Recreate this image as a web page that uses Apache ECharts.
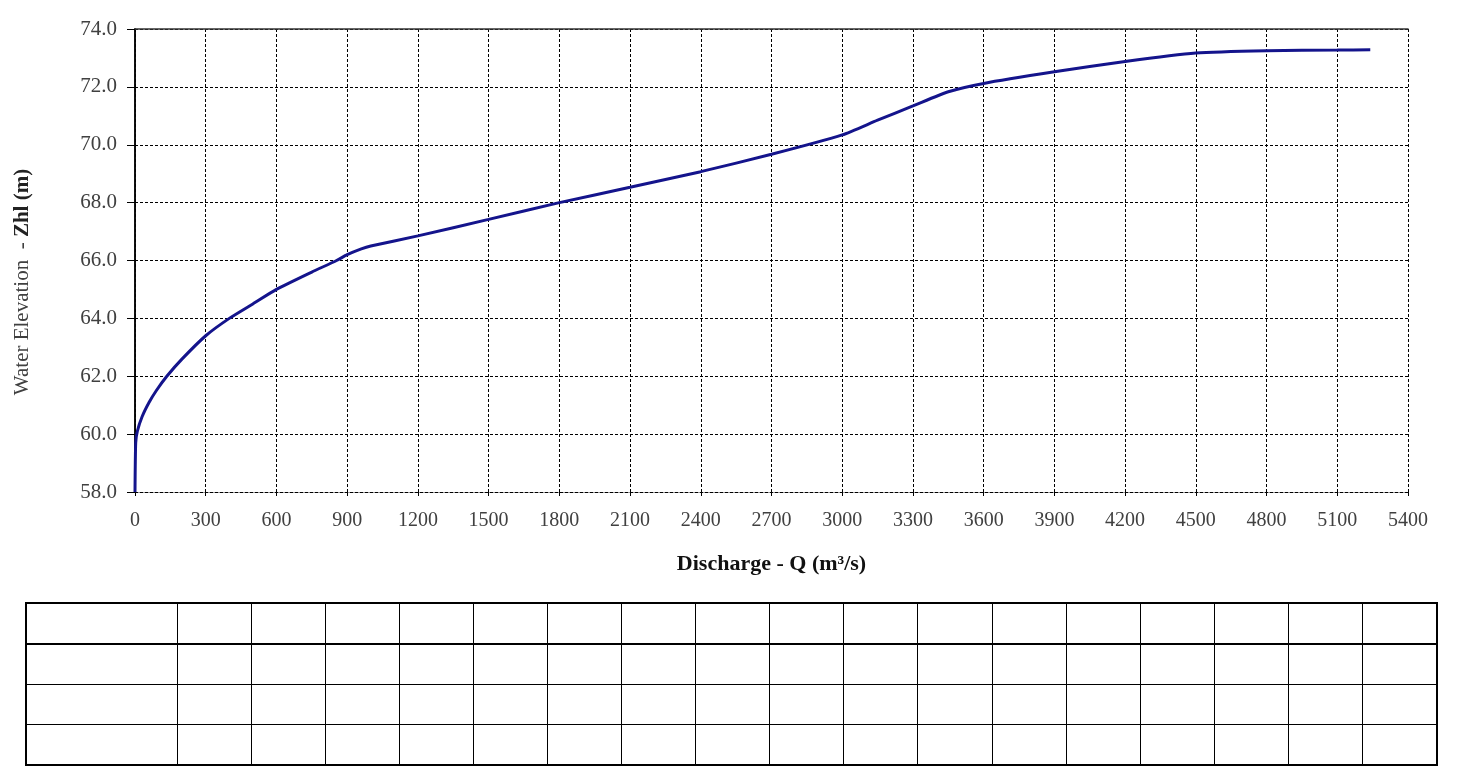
<!DOCTYPE html>
<html>
<head>
<meta charset="utf-8">
<script src="https://cdn.jsdelivr.net/npm/echarts@6/dist/echarts.min.js"></script>
<style>
  html, body { margin: 0; padding: 0; background: #fff; }
  #main { position: absolute; left: 0; top: 0; width: 1466px; height: 595px; }
  #tbl { position: absolute; left: 25px; top: 602px; width: 1412px;
         border-collapse: collapse; table-layout: fixed; border: 2px solid #000; }
  #tbl td { border: 1.5px solid #000; padding: 0; height: 39px; }
  #tbl tr.head td { border-bottom: 2.5px solid #000; }
</style>
</head>
<body>
<div id="main"></div>
<table id="tbl"></table>
<script>
// rating curve: discharge (m3/s) vs water level (m)
var discharge = [0, 3, 10, 30, 60, 90, 135, 200, 300, 400, 500, 600, 750, 855, 900, 960, 1000,
                 1200, 1500, 1800, 2100, 2400, 2700, 3000, 3150, 3300, 3450, 3600, 3900, 4200,
                 4500, 4800, 5100, 5240];
var elevation = [58.0, 59.7, 60.1, 60.6, 61.1, 61.5, 62.0, 62.6, 63.4, 64.0, 64.5, 65.0, 65.6, 66.0, 66.2, 66.4, 66.5,
                 66.85, 67.42, 68.0, 68.53, 69.07, 69.67, 70.34, 70.85, 71.34, 71.83, 72.12, 72.52, 72.88,
                 73.17, 73.25, 73.27, 73.28];
var tableRows = 4;
var tableCols = 18;

var pts = [];
for (var i = 0; i < discharge.length; i++) {
	pts.push([discharge[i], elevation[i]]);
}

var myChart = echarts.init(document.getElementById('main'));
var labelFont = { fontFamily: 'Liberation Serif', fontSize: 20, color: '#404040' };
var dashLine = { show: true, lineStyle: { color: '#000', width: 1, type: [3, 2] } };

var option = {
	animation: false,
	grid: { left: 135, right: 58, top: 29, height: 463 },
	xAxis: [
		{
			type: 'value', min: 0, max: 5400, interval: 300,
			axisLine: { show: true, lineStyle: { color: '#000', width: 1, type: [3, 2] } },
			axisTick: { show: true, length: 4, lineStyle: { color: '#000' } },
			axisLabel: Object.assign({ margin: 19, formatter: function (v) { return String(v); } }, labelFont),
			splitLine: dashLine,
			name: 'Discharge - Q (m³/s)',
			nameLocation: 'middle',
			nameGap: 61,
			nameTextStyle: { fontFamily: 'Liberation Serif', fontSize: 22, fontWeight: 'bold', color: '#111' }
		},
		{
			type: 'value', position: 'top', min: 0, max: 5400,
			axisLine: { show: true, lineStyle: { color: '#333', width: 1.5 } },
			axisTick: { show: false }, axisLabel: { show: false }, splitLine: { show: false }
		}
	],
	yAxis: [
		{
			type: 'value', min: 58, max: 74, interval: 2,
			axisLine: { show: true, lineStyle: { color: '#000', width: 1.5 } },
			axisTick: { show: true, length: 8, lineStyle: { color: '#000' } },
			axisLabel: Object.assign({ margin: 18, formatter: function (v) { return v.toFixed(1); } }, labelFont, { fontSize: 21 }),
			splitLine: dashLine,
			name: '{n|Water Elevation  - }{b|Zhl (m)}',
			nameLocation: 'middle',
			nameGap: 102,
			nameRotate: 90,
			nameTextStyle: {
				padding: [0, 0, 0, -43],
				rich: {
					n: { fontFamily: 'Liberation Serif', fontSize: 21, color: '#404040' },
					b: { fontFamily: 'Liberation Serif', fontSize: 21, fontWeight: 'bold', color: '#222' }
				}
			}
		},
		{
			type: 'value', position: 'right', min: 58, max: 74,
			axisLine: { show: true, lineStyle: { color: '#000', width: 1.5 } },
			axisTick: { show: false }, axisLabel: { show: false }, splitLine: { show: false }
		}
	],
	series: [
		{
			type: 'line',
			data: pts,
			smooth: 0.2,
			showSymbol: false,
			lineStyle: { color: '#14148c', width: 3 }
		}
	]
};
myChart.setOption(option);

// empty data table underneath
var tbl = document.getElementById('tbl');
var colgroup = document.createElement('colgroup');
for (var c = 0; c < tableCols; c++) {
	var col = document.createElement('col');
	col.style.width = (c == 0 ? 151 : 74.1) + 'px';
	colgroup.appendChild(col);
}
tbl.appendChild(colgroup);
for (var r = 0; r < tableRows; r++) {
	var tr = document.createElement('tr');
	if (r == 0) tr.className = 'head';
	for (var c = 0; c < tableCols; c++) {
		tr.appendChild(document.createElement('td'));
	}
	tbl.appendChild(tr);
}
</script>
</body>
</html>
